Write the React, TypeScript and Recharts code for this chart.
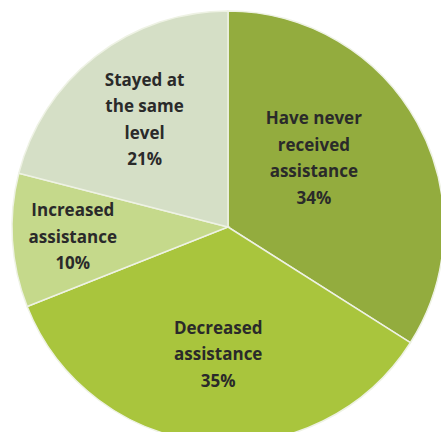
import React from 'react'
import { Cell, Pie, PieChart } from 'recharts'

const categories = ['Have never received assistance', 'Decreased assistance', 'Increased assistance', 'Stayed at the same level']
const values = [34, 35, 10, 21]
const labelLines = [
  ['Have never', 'received', 'assistance', '34%'],
  ['Decreased', 'assistance', '35%'],
  ['Increased', 'assistance', '10%'],
  ['Stayed at', 'the same', 'level', '21%'],
]
const colors = ['#93ac3e', '#a9c53d', '#c5d98b', '#d5dfc6']

const RADIAN = Math.PI / 180
// radius factor + angle nudge for each label block
const labelPos = [
  { r: 0.51, da: 10 },
  { r: 0.59, da: 1 },
  { r: 0.72, da: 0 },
  { r: 0.63, da: 0 },
]

const renderLabel = (props: any) => {
  const { cx, cy, midAngle, outerRadius, index } = props
  const p = labelPos[index]
  const a = (midAngle + p.da) * RADIAN
  const x = cx + outerRadius * p.r * Math.cos(a)
  const y = cy - outerRadius * p.r * Math.sin(a)
  const lines = labelLines[index]
  const lh = 26.5
  const top = y - ((lines.length - 1) * lh) / 2
  return (
    <text x={x} y={top} textAnchor="middle" fill="#2a2a2a" fontSize={17} fontWeight="bold" fontFamily="'Open Sans', sans-serif">
      {lines.map((l, i) => (
        <tspan key={i} x={x} y={top + i * lh} dy="0.35em">{l}</tspan>
      ))}
    </text>
  )
}

export default function App() {
  const data = categories.map((name, i) => ({ name, value: values[i] }))
  return (
    <div style={{ position: 'absolute', left: 0, top: 0, background: '#fff' }}>
      <PieChart width={441} height={432} margin={{ top: 0, right: 0, bottom: 0, left: 0 }}>
        <Pie
          data={data}
          dataKey="value"
          cx={228}
          cy={227}
          outerRadius={216}
          startAngle={90}
          endAngle={-270}
          stroke="#eef2e4"
          strokeWidth={1.5}
          label={renderLabel}
          labelLine={false}
          isAnimationActive={false}
        >
          {data.map((d, i) => (
            <Cell key={d.name} fill={colors[i]} />
          ))}
        </Pie>
      </PieChart>
    </div>
  )
}
